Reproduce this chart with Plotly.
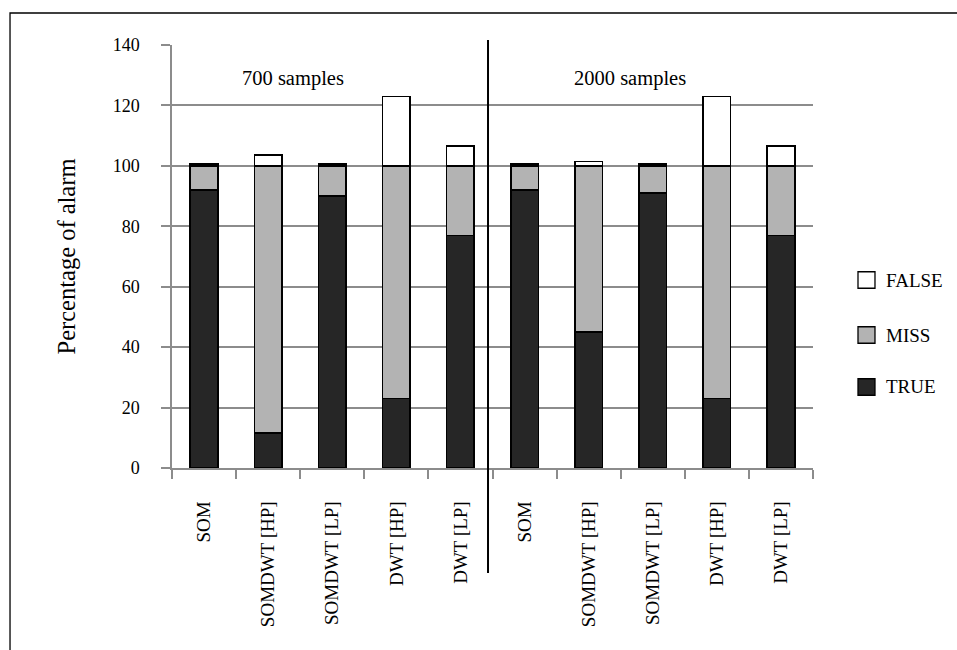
import plotly.graph_objects as go

# Alarm outcomes per method, for two training-set sizes
methods = ["SOM", "SOMDWT [HP]", "SOMDWT [LP]", "DWT [HP]", "DWT [LP]",
           "SOM", "SOMDWT [HP]", "SOMDWT [LP]", "DWT [HP]", "DWT [LP]"]
group_labels = ["700 samples", "2000 samples"]

true_pct = [92, 11.5, 90, 23, 77, 92, 45, 91, 23, 77]
miss_pct = [8, 88.5, 10, 77, 23, 8, 55, 9, 77, 23]
false_pct = [0.6, 3.5, 0.6, 23, 6.5, 0.6, 1.4, 0.6, 23, 6.5]

series_names = ["TRUE", "MISS", "FALSE"]
series_values = [true_pct, miss_pct, false_pct]
series_colors = ["#262626", "#b3b3b3", "#ffffff"]

FONT = "Liberation Serif"
GRID = "#8c8c8c"

x = list(range(len(methods)))

fig = go.Figure()
for name, vals, col in zip(series_names, series_values, series_colors):
    fig.add_trace(go.Bar(
        x=x, y=vals, name=name, width=0.43,
        marker=dict(color=col, line=dict(color="#000000", width=1.6)),
        showlegend=False,
    ))

# Outer frame (top and left edges visible)
fig.add_shape(type="rect", xref="paper", yref="paper",
              x0=-0.2527, x1=1.4, y0=-0.6, y1=1.0757,
              line=dict(color="#000000", width=1.3), fillcolor="rgba(0,0,0,0)",
              layer="above")

# Divider between the two sample-size groups
fig.add_shape(type="line", xref="paper", yref="paper",
              x0=0.493, x1=0.493, y0=-0.248, y1=1.012,
              line=dict(color="#000000", width=2))

# Group captions
for label, xc in zip(group_labels, [0.189, 0.715]):
    fig.add_annotation(text=label, xref="paper", yref="paper",
                       x=xc, y=0.921, xanchor="center", yanchor="middle",
                       showarrow=False,
                       font=dict(family=FONT, size=20.5, color="#000000"))

# Legend drawn as swatches + labels, FALSE on top
legend_y = {"FALSE": 0.4444, "MISS": 0.3144, "TRUE": 0.1915}
for name, col in zip(series_names, series_colors):
    yc = legend_y[name]
    fig.add_shape(type="rect", xref="paper", yref="paper",
                  x0=1.0702, x1=1.0967, y0=yc - 0.0195, y1=yc + 0.0195,
                  fillcolor=col, line=dict(color="#000000", width=1.3))
    fig.add_annotation(text=name, xref="paper", yref="paper",
                       x=1.1108, y=yc, xanchor="left", yanchor="middle",
                       showarrow=False,
                       font=dict(family=FONT, size=19, color="#000000"))

fig.update_layout(
    barmode="stack",
    width=957, height=650,
    margin=dict(l=172, r=144, t=45, b=182),
    paper_bgcolor="#ffffff", plot_bgcolor="#ffffff",
    font=dict(family=FONT, color="#000000"),
)

fig.update_xaxes(
    range=[-0.5, 9.5],
    tickmode="array", tickvals=x, ticktext=methods,
    tickangle=-90, ticks="",
    tickfont=dict(family=FONT, size=19, color="#000000"),
    ticklabelstandoff=24,
    showgrid=False, zeroline=False,
    showline=True, linecolor=GRID, linewidth=1.5,
    minor=dict(ticks="outside", tick0=-0.5, dtick=1, ticklen=9,
               tickcolor=GRID, tickwidth=1.5, showgrid=False),
)

fig.update_yaxes(
    range=[0, 140], tickmode="linear", tick0=0, dtick=20,
    ticks="outside", ticklen=9, tickcolor=GRID, tickwidth=1.5,
    tickfont=dict(family=FONT, size=18, color="#000000"),
    ticklabelstandoff=18,
    showgrid=True, gridcolor=GRID, gridwidth=1.5,
    zeroline=False,
    showline=True, linecolor=GRID, linewidth=1.5,
    title=dict(text="Percentage of alarm", standoff=30,
               font=dict(family=FONT, size=24.5, color="#000000")),
)

fig.write_html("out.html")
